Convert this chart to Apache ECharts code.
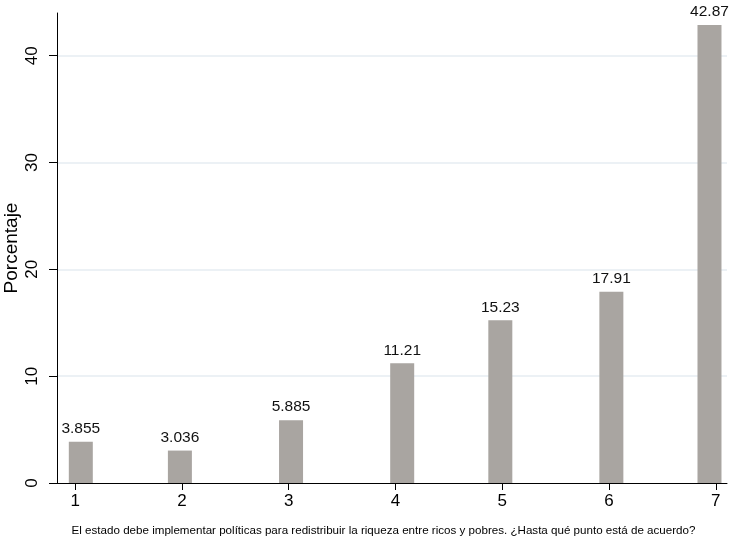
<!DOCTYPE html>
<html>
<head>
<meta charset="utf-8">
<script src="https://cdn.jsdelivr.net/npm/echarts@6/dist/echarts.min.js"></script>
<style>html,body{margin:0;padding:0;background:#fff;}#c{width:732px;height:542px;}</style>
</head>
<body>
<div id="c"></div>
<script>
var binCenters = [1.053, 1.981, 3.022, 4.063, 4.982, 6.022, 6.941];
var percent = [3.855, 3.036, 5.885, 11.21, 15.23, 17.91, 42.87];
var barLabels = ['3.855', '3.036', '5.885', '11.21', '15.23', '17.91', '42.87'];
var xTicks = [1, 2, 3, 4, 5, 6, 7];
var yTicks = [0, 10, 20, 30, 40];
var xTitle = 'El estado debe implementar políticas para redistribuir la riqueza entre ricos y pobres. ¿Hasta qué punto está de acuerdo?';
var yTitle = 'Porcentaje';

var font = 'Liberation Sans, Arial, Helvetica, sans-serif';
var chart = echarts.init(document.getElementById('c'), null, {renderer: 'canvas'});
var data = binCenters.map(function (x, i) { return [x, percent[i], i]; });
var BAR_W = 24;
chart.setOption({
  animation: false,
  backgroundColor: '#ffffff',
  grid: {left: 57, right: 5, top: 13, bottom: 59, containLabel: false, outerBoundsMode: 'none'},
  xAxis: {
    type: 'value', min: 0.83, max: 7.105,
    name: xTitle, nameLocation: 'middle', nameGap: 42, nameMoveOverlap: false,
    nameTextStyle: {fontFamily: font, fontSize: 11.6, color: '#000', padding: [0, 17, 0, 0]},
    axisLine: {show: true, lineStyle: {color: '#000', width: 1}},
    axisTick: {show: true, length: 7, customValues: xTicks, lineStyle: {color: '#000'}},
    axisLabel: {customValues: xTicks, fontFamily: font, fontSize: 17, color: '#000', margin: 10},
    splitLine: {show: false}
  },
  yAxis: {
    type: 'value', min: 0, max: 44,
    name: yTitle, nameLocation: 'middle', nameGap: 36, nameMoveOverlap: false,
    nameTextStyle: {fontFamily: font, fontSize: 19, color: '#000'},
    axisLine: {show: true, lineStyle: {color: '#000', width: 1}},
    axisTick: {show: true, length: 8, customValues: yTicks, lineStyle: {color: '#000'}},
    axisLabel: {customValues: yTicks, rotate: 90, fontFamily: font, fontSize: 17, color: '#000', margin: 16},
    splitLine: {show: false}
  },
  series: [{
    type: 'custom',
    data: data,
    encode: {x: 0, y: 1},
    renderItem: function (params, api) {
      var x = api.value(0), y = api.value(1), idx = api.value(2);
      var base = api.coord([x, 0]);
      var top = api.coord([x, y]);
      return {
        type: 'rect',
        shape: {x: base[0] - BAR_W / 2, y: top[1], width: BAR_W, height: base[1] - top[1]},
        style: {fill: '#a9a5a1'},
        textContent: {
          style: {text: barLabels[idx], fontFamily: font, fontSize: 15.5, fill: '#111'}
        },
        textConfig: {position: 'top', distance: 5}
      };
    },
    markLine: {
      silent: true, symbol: 'none', z: 0,
      label: {show: false},
      lineStyle: {color: '#e6edf2', width: 1.5, type: 'solid'},
      data: yTicks.slice(1).map(function (v) { return {yAxis: v}; })
    }
  }]
});
</script>
</body>
</html>
